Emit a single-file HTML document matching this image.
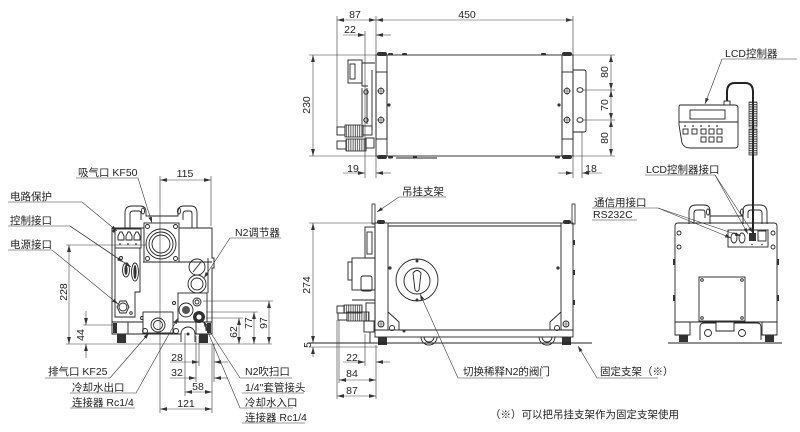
<!DOCTYPE html>
<html><head><meta charset="utf-8">
<style>
html,body{margin:0;padding:0;background:#fff;}
svg{display:block;}
text{font-family:"Liberation Sans","Noto Sans CJK SC",sans-serif;font-size:10.5px;fill:#222;}
.d{stroke:#444;stroke-width:0.6;fill:none;}
.o{stroke:#222;stroke-width:0.9;fill:none;}
.w{stroke:#222;stroke-width:0.9;fill:#fff;}
.t{stroke:#333;stroke-width:0.6;fill:none;}
.f{fill:#333;stroke:none;}
</style></head><body>
<svg width="800" height="432" viewBox="0 0 800 432">
<defs>
<marker id="a" markerWidth="8" markerHeight="5" refX="7" refY="2.2" orient="auto-start-reverse" markerUnits="userSpaceOnUse"><path d="M0,0.3L7,2.2L0,4.1z" fill="#333"/></marker>
<marker id="b" markerWidth="7" markerHeight="5" refX="6" refY="2" orient="auto" markerUnits="userSpaceOnUse"><path d="M0,0.2L6,2L0,3.8z" fill="#333"/></marker>
<pattern id="coil" width="8" height="2.3" patternUnits="userSpaceOnUse"><path d="M0,1.1H8" stroke="#333" stroke-width="1"/></pattern>
<pattern id="rib" width="2.2" height="10" patternUnits="userSpaceOnUse"><path d="M1.1,0V10" stroke="#333" stroke-width="0.8"/></pattern>
</defs>

<!-- ================= TOP VIEW ================= -->
<g>
<rect class="o" x="376" y="55" width="197" height="101"/>
<line class="o" x1="387" y1="55" x2="387" y2="156"/>
<line class="o" x1="562" y1="55" x2="562" y2="156"/>
<g class="f">
<rect x="377" y="52" width="10" height="4" rx="2"/><rect x="562" y="52" width="10" height="4" rx="2"/>
<rect x="377" y="155" width="10" height="4" rx="2"/><rect x="562" y="155" width="10" height="4" rx="2"/>
<rect x="388" y="53" width="5" height="2.5" rx="1"/><rect x="402" y="53" width="5" height="2.5" rx="1"/><rect x="541" y="53" width="5" height="2.5" rx="1"/>
<rect x="388" y="156" width="5" height="2.5" rx="1"/><rect x="555" y="156" width="5" height="2.5" rx="1"/><rect x="413" y="156" width="4" height="2.5" rx="1"/>
<circle cx="389" cy="105" r="1.6"/><circle cx="559" cy="105" r="1.6"/>
</g>
<line class="o" x1="396" y1="158" x2="437" y2="158"/>
<g class="o">
<circle cx="381" cy="91" r="2.8"/><circle cx="381" cy="120" r="2.8"/>
<circle cx="567" cy="91" r="2.8"/><circle cx="567" cy="120" r="2.8"/>
</g>
<path class="t" d="M377,91h8M381,87v8M377,120h8M381,116v8M563,91h8M567,87v8M563,120h8M567,116v8"/>
<rect class="o" x="376" y="72" width="11" height="67" />
<rect class="o" x="562" y="72" width="11" height="67" />
<path class="o" d="M573,70H584Q586,70 586,72V130Q586,132 584,132H573"/>
<ellipse class="o" cx="580" cy="90" rx="3" ry="2.3"/><ellipse class="o" cx="580" cy="120" rx="3" ry="2.3"/>
<!-- left components -->
<rect class="o" x="348" y="60" width="14" height="23"/>
<rect class="o" x="350" y="64" width="5" height="15"/>
<path class="o" d="M362,63H375M362,63V86H368M372,70V130M362,88V124M367,88V124"/>
<circle class="o" cx="366" cy="92" r="2.2"/><circle class="o" cx="366" cy="120" r="2.2"/>
<rect class="o" x="337" y="127" width="8" height="8"/>
<rect x="345" y="125" width="18" height="12" fill="url(#rib)" stroke="#222" stroke-width="0.8"/>
<rect class="o" x="363" y="126" width="9" height="9"/>
<rect class="o" x="337" y="141" width="9" height="8"/>
<rect x="346" y="139" width="20" height="12" fill="url(#rib)" stroke="#222" stroke-width="0.8"/>
<rect class="o" x="366" y="138" width="8" height="10"/>
</g>
<!-- top view dims -->
<g>
<line class="t" x1="337" y1="16" x2="337" y2="127"/>
<line class="t" x1="376" y1="16" x2="376" y2="55"/>
<line class="t" x1="573" y1="16" x2="573" y2="55"/>
<line class="d" x1="337" y1="20" x2="376" y2="20" marker-start="url(#a)" marker-end="url(#a)"/>
<line class="d" x1="376" y1="20" x2="573" y2="20" marker-start="url(#a)" marker-end="url(#a)"/>
<line class="t" x1="365" y1="31" x2="365" y2="178"/>
<line class="d" x1="343" y1="35" x2="365" y2="35" marker-end="url(#a)"/>
<line class="d" x1="391" y1="35" x2="376" y2="35" marker-end="url(#a)"/>
<line class="t" x1="376" y1="156" x2="376" y2="178"/>
<line class="d" x1="343" y1="173" x2="365" y2="173" marker-end="url(#a)"/>
<line class="d" x1="391" y1="173" x2="376" y2="173" marker-end="url(#a)"/>
<line class="t" x1="573" y1="156" x2="573" y2="178"/>
<line class="t" x1="582" y1="132" x2="582" y2="178"/>
<line class="d" x1="558" y1="173" x2="573" y2="173" marker-end="url(#a)"/>
<line class="d" x1="602" y1="173" x2="582" y2="173" marker-end="url(#a)"/>
<line class="t" x1="309" y1="55" x2="376" y2="55"/>
<line class="t" x1="309" y1="156" x2="376" y2="156"/>
<line class="d" x1="313" y1="55" x2="313" y2="156" marker-start="url(#a)" marker-end="url(#a)"/>
<line class="t" x1="573" y1="55" x2="615" y2="55"/>
<line class="t" x1="583" y1="90" x2="615" y2="90"/>
<line class="t" x1="583" y1="120" x2="615" y2="120"/>
<line class="t" x1="573" y1="156" x2="615" y2="156"/>
<line class="d" x1="611" y1="55" x2="611" y2="90" marker-start="url(#a)" marker-end="url(#a)"/>
<line class="d" x1="611" y1="90" x2="611" y2="120" marker-start="url(#a)" marker-end="url(#a)"/>
<line class="d" x1="611" y1="120" x2="611" y2="156" marker-start="url(#a)" marker-end="url(#a)"/>
<text x="355" y="18" text-anchor="middle">87</text>
<text x="467" y="18" text-anchor="middle">450</text>
<text x="350" y="33" text-anchor="middle">22</text>
<text x="353" y="172" text-anchor="middle">19</text>
<text x="591" y="172" text-anchor="middle">18</text>
<text transform="rotate(-90 306 105)" x="306" y="109" text-anchor="middle">230</text>
<text transform="rotate(-90 604 72)" x="604" y="76" text-anchor="middle">80</text>
<text transform="rotate(-90 604 105)" x="604" y="109" text-anchor="middle">70</text>
<text transform="rotate(-90 604 138)" x="604" y="142" text-anchor="middle">80</text>
</g>

<!-- ================= LCD CONTROLLER ================= -->
<g>
<text x="725" y="57">LCD控制器</text>
<path class="t" d="M797,59H722L705,104" marker-end="url(#b)"/>
<path class="o" d="M680,105H735Q738,105 738,108V145Q738,148 735,148H690Q684,148 682,143L679,125V108Q679,105 680,105Z"/>
<line class="o" x1="679" y1="122" x2="738" y2="122"/>
<rect class="o" x="690" y="110" width="35" height="9"/>
<g class="f"><circle cx="685" cy="126" r="0.9"/><circle cx="693" cy="126" r="0.9"/><circle cx="701" cy="126" r="0.9"/><circle cx="709" cy="126" r="0.9"/><circle cx="717" cy="126" r="0.9"/></g>
<g class="o">
<rect x="683" y="129" width="5" height="5"/><rect x="692" y="129" width="5" height="5"/><rect x="701" y="129" width="5" height="5"/><rect x="709" y="129" width="5" height="5"/><rect x="717" y="129" width="5" height="5"/>
<rect x="701" y="137" width="5" height="5"/><rect x="709" y="137" width="5" height="5"/><rect x="717" y="137" width="5" height="5"/>
</g>
<rect class="w" x="724" y="101" width="6" height="4"/>
<path d="M727,101V92Q727,83 735,83H745Q753,83 753,92V234" stroke="#222" stroke-width="2" fill="none"/>
<rect x="749" y="102" width="8" height="25" fill="url(#coil)" stroke="#222" stroke-width="0.7"/>
<rect x="749" y="129" width="8" height="26" fill="url(#coil)" stroke="#222" stroke-width="0.7"/>
</g>

<!-- ================= RIGHT (REAR) VIEW ================= -->
<g>
<path class="o" d="M689,224V212Q689,205 696,205H704Q710,205 710,211V216H743V211Q743,205 749,205H760Q767,205 767,212V224"/>
<path class="o" d="M694,224V213Q694,210 697,210H703Q705,210 705,213V218M748,218V213Q748,210 751,210H759Q762,210 762,213V224M710,216V224M743,216V224"/>
<ellipse class="o" cx="708" cy="212" rx="1.5" ry="3"/><ellipse class="o" cx="742" cy="212" rx="1.5" ry="3"/>
<path class="o" d="M675,322V226Q675,223 678,223H774Q777,223 777,226V322Z"/>
<g class="o"><circle cx="679" cy="233" r="2"/><circle cx="679" cy="247" r="2"/><circle cx="773" cy="233" r="2"/><circle cx="773" cy="247" r="2"/></g>
<g class="f"><rect x="673" y="259" width="2" height="6"/><rect x="673" y="295" width="2" height="6"/><rect x="777" y="259" width="2" height="6"/><rect x="777" y="295" width="2" height="6"/></g>
<rect class="o" x="728" y="230" width="40" height="17"/>
<ellipse class="o" cx="734" cy="238" rx="3" ry="5"/><ellipse class="o" cx="742" cy="238" rx="3" ry="5"/>
<rect class="f" x="749" y="233" width="7" height="8"/>
<rect class="o" x="758" y="231" width="8" height="10"/>
<g class="f"><circle cx="752" cy="244.5" r="0.8"/><circle cx="762" cy="244.5" r="0.8"/></g>
<rect class="o" x="699" y="277" width="46" height="44"/>
<g class="o"><circle cx="702" cy="280" r="1.3"/><circle cx="742" cy="280" r="1.3"/><circle cx="702" cy="318" r="1.3"/><circle cx="742" cy="318" r="1.3"/></g>
<path class="o" d="M700,340V327Q700,323 704,323H716V331H734V323H757Q761,323 761,327V340"/>
<circle class="o" cx="708" cy="333" r="3.5"/><circle class="o" cx="742" cy="333" r="3.5"/>
<path class="o" d="M675,322V335H690V322M762,322V335H777V322"/>
<g class="f"><rect x="679" y="335" width="9" height="7"/><rect x="765" y="335" width="9" height="7"/></g>
<line class="o" x1="668" y1="343" x2="782" y2="343"/>
<text x="646" y="173">LCD控制器接口</text>
<path class="t" d="M645,175H715L748,234" marker-end="url(#b)"/>
<path class="t" d="M715,175L753,233" marker-end="url(#b)"/>
<text x="594" y="206">通信用接口</text>
<text x="593" y="218">RS232C</text>
<line class="t" x1="592" y1="208" x2="658" y2="208"/>
<line class="t" x1="592" y1="220" x2="637" y2="220"/>
<path class="t" d="M658,208L731,238" marker-end="url(#b)"/>
<path class="t" d="M658,208L741,236" marker-end="url(#b)"/>
</g>

<!-- ================= FRONT (LEFT) VIEW ================= -->
<g>
<path class="o" d="M125,228V213Q125,206 132,206H140Q146,206 146,212V216H178V212Q178,206 184,206H191Q197,206 197,213V228"/>
<path class="o" d="M130,228V214Q130,211 133,211H139Q141,211 141,214V220M183,220V214Q183,211 186,211H190Q192,211 192,214V228"/>
<ellipse class="o" cx="143" cy="211" rx="1.5" ry="3"/><ellipse class="o" cx="179" cy="211" rx="1.5" ry="3"/>
<path class="o" d="M112,322V228H212V258H214V268H212V322"/>
<rect class="w" x="144" y="223" width="35" height="39"/>
<g class="o"><circle cx="147.5" cy="226.5" r="2"/><circle cx="175.5" cy="226.5" r="2"/><circle cx="147.5" cy="258.5" r="2"/><circle cx="175.5" cy="258.5" r="2"/></g>
<circle class="o" cx="161" cy="244" r="15"/><circle class="o" cx="161" cy="244" r="12"/><circle class="o" cx="161" cy="244" r="9"/>
<!-- circuit protection -->
<rect class="o" x="115" y="229" width="26" height="19"/>
<path class="o" d="M118,236L120,232H122L124,236V240H118ZM126,236L128,232H130L132,236V240H126ZM134,236L136,232H138L140,236V240H134Z"/>
<g class="f"><circle cx="120" cy="244" r="0.9"/><circle cx="128" cy="244" r="0.9"/><circle cx="136" cy="244" r="0.9"/><circle cx="114" cy="231" r="1.5"/></g>
<path class="o" d="M115,248V317H135V292H140V248"/>
<line class="o" x1="143" y1="262" x2="212" y2="262"/>
<ellipse class="o" cx="126" cy="270" rx="3.5" ry="7"/><ellipse class="f" cx="126" cy="270" rx="1.6" ry="5"/>
<ellipse class="o" cx="135" cy="272" rx="3.5" ry="9"/><ellipse class="f" cx="135" cy="272" rx="1.6" ry="7"/>
<circle class="o" cx="121" cy="258" r="1.5"/>
<path class="o" d="M117,307L120,301H126L129,307L126,313H120Z"/>
<circle class="o" cx="123" cy="307" r="4"/>
<circle class="o" cx="131" cy="313" r="1.3"/>
<!-- N2 regulator -->
<circle class="o" cx="197" cy="267" r="8"/><line class="o" x1="193" y1="272" x2="201" y2="262"/>
<circle class="o" cx="197" cy="284" r="9"/><circle class="o" cx="197" cy="284" r="6"/>
<line class="o" x1="208" y1="258" x2="208" y2="293"/>
<rect class="o" x="178" y="293" width="29" height="29"/>
<circle class="o" cx="197" cy="302" r="4"/><circle class="o" cx="197" cy="302" r="2"/>
<circle cx="199" cy="317" r="6" fill="#333"/><circle cx="199" cy="317" r="3" fill="#fff" stroke="#222" stroke-width="0.8"/>
<circle class="o" cx="186" cy="310" r="7"/><circle cx="186" cy="310" r="4" fill="#555"/>
<circle class="o" cx="174" cy="303" r="1.5"/><circle class="o" cx="142" cy="318" r="1.5"/>
<!-- base -->
<line class="o" x1="112" y1="322" x2="212" y2="322"/>
<rect class="w" x="143" y="312" width="30" height="21"/>
<circle class="o" cx="158" cy="325" r="7"/><circle class="o" cx="158" cy="325" r="4.5"/>
<path class="o" d="M112,322V334H128V322M196,322V334H212V322M128,334H196"/>
<circle class="o" cx="145" cy="331" r="2.5"/><circle class="o" cx="176" cy="331" r="2.5"/>
<path class="w" d="M181,342V334A7,7 0 0,1 195,334V342"/>
<circle class="f" cx="188" cy="334" r="1.5"/>
<g class="f"><rect x="113" y="323" width="4" height="10"/><rect x="207" y="323" width="4" height="10"/><rect x="117" y="334" width="9" height="9"/><rect x="199" y="334" width="9" height="9"/></g>
</g>
<!-- front view labels & dims -->
<g>
<text x="78" y="176">吸气口 KF50</text>
<path class="t" d="M76,178H138L152,223" marker-end="url(#b)"/>
<text x="10" y="200">电路保护</text>
<path class="t" d="M8,202H82L117,231" marker-end="url(#b)"/>
<text x="10" y="224">控制接口</text>
<path class="t" d="M8,226H70L123,262" marker-end="url(#b)"/>
<path class="t" d="M70,226L131,267" marker-end="url(#b)"/>
<text x="10" y="248">电源接口</text>
<path class="t" d="M8,250H52L118,304" marker-end="url(#b)"/>
<text x="235" y="236">N2调节器</text>
<path class="t" d="M281,238H230L204,278" marker-end="url(#b)"/>
<line class="t" x1="160" y1="176" x2="160" y2="413"/>
<line class="t" x1="211" y1="176" x2="211" y2="226"/>
<line class="d" x1="160" y1="180" x2="211" y2="180" marker-start="url(#a)" marker-end="url(#a)"/>
<text x="185" y="177" text-anchor="middle">115</text>
<line class="t" x1="66" y1="245" x2="146" y2="245"/>
<line class="t" x1="66" y1="344" x2="272" y2="344"/>
<line class="d" x1="69" y1="245" x2="69" y2="344" marker-start="url(#a)" marker-end="url(#a)"/>
<text transform="rotate(-90 63 292)" x="63" y="296" text-anchor="middle">228</text>
<line class="t" x1="83" y1="325" x2="113" y2="325"/>
<line class="d" x1="86" y1="311" x2="86" y2="325" marker-end="url(#a)"/>
<line class="d" x1="86" y1="358" x2="86" y2="344" marker-end="url(#a)"/>
<text transform="rotate(-90 80 335)" x="80" y="339" text-anchor="middle">44</text>
<line class="t" x1="203" y1="301" x2="273" y2="301"/>
<line class="t" x1="206" y1="312" x2="258" y2="312"/>
<line class="t" x1="206" y1="318" x2="243" y2="318"/>
<line class="d" x1="239" y1="318" x2="239" y2="344" marker-start="url(#a)" marker-end="url(#a)"/>
<line class="d" x1="254" y1="312" x2="254" y2="344" marker-start="url(#a)" marker-end="url(#a)"/>
<line class="d" x1="269" y1="301" x2="269" y2="344" marker-start="url(#a)" marker-end="url(#a)"/>
<text transform="rotate(-90 233 332)" x="233" y="336" text-anchor="middle">62</text>
<text transform="rotate(-90 248 323)" x="248" y="327" text-anchor="middle">77</text>
<text transform="rotate(-90 263 323)" x="263" y="327" text-anchor="middle">97</text>
<!-- bottom horizontal dims -->
<line class="t" x1="185" y1="333" x2="185" y2="396"/>
<line class="t" x1="212" y1="344" x2="212" y2="413"/>
<line class="t" x1="199" y1="336" x2="199" y2="366"/>
<line class="t" x1="196" y1="336" x2="196" y2="382"/>
<line class="t" x1="214" y1="344" x2="214" y2="382"/>
<line class="d" x1="170" y1="362" x2="199" y2="362" marker-end="url(#a)"/>
<line class="d" x1="228" y1="362" x2="214" y2="362" marker-end="url(#a)"/>
<text x="177" y="361" text-anchor="middle">28</text>
<line class="d" x1="170" y1="378" x2="196" y2="378" marker-end="url(#a)"/>
<line class="d" x1="228" y1="378" x2="214" y2="378" marker-end="url(#a)"/>
<text x="177" y="376" text-anchor="middle">32</text>
<line class="d" x1="185" y1="392" x2="212" y2="392" marker-start="url(#a)" marker-end="url(#a)"/>
<text x="198" y="390" text-anchor="middle">58</text>
<line class="d" x1="160" y1="409" x2="212" y2="409" marker-start="url(#a)" marker-end="url(#a)"/>
<text x="186" y="407" text-anchor="middle">121</text>
<!-- bottom labels -->
<text x="48" y="375">排气口 KF25</text>
<path class="t" d="M45,378H110L149,333" marker-end="url(#b)"/>
<text x="72" y="391">冷却水出口</text>
<path class="t" d="M70,393H136L178,318" marker-end="url(#b)"/>
<text x="72" y="406">连接器 Rc1/4</text>
<line class="t" x1="70" y1="408" x2="135" y2="408"/>
<text x="245" y="375">N2吹扫口</text>
<path class="t" d="M292,378H240L203,321" marker-end="url(#b)"/>
<text x="245" y="391">1/4"套管接头</text>
<line class="t" x1="242" y1="393" x2="304" y2="393"/>
<text x="245" y="406">冷却水入口</text>
<path class="t" d="M293,408H240L205,325" marker-end="url(#b)"/>
<text x="245" y="421">连接器 Rc1/4</text>
<line class="t" x1="242" y1="423" x2="305" y2="423"/>
</g>

<!-- ================= SIDE VIEW ================= -->
<g>
<rect x="372" y="204" width="3" height="20" fill="#fff" stroke="#222" stroke-width="0.8"/>
<rect x="572" y="204" width="3" height="20" fill="#fff" stroke="#222" stroke-width="0.8"/>
<rect class="o" x="375" y="223" width="198" height="107"/>
<line class="o" x1="388" y1="223" x2="388" y2="330"/>
<line class="o" x1="561" y1="223" x2="561" y2="330"/>
<line class="o" x1="388" y1="226" x2="561" y2="226"/>
<path class="o" d="M388,312L399,322V330M561,312L550,322V330"/>
<rect class="o" x="375" y="330" width="198" height="7"/>
<g class="f"><rect x="377" y="220" width="8" height="4" rx="2"/><rect x="563" y="220" width="8" height="4" rx="2"/>
<rect x="378" y="337" width="9" height="8"/><rect x="562" y="337" width="9" height="8"/>
<circle cx="390" cy="268" r="1.6"/><circle cx="558" cy="268" r="1.6"/><circle cx="404" cy="331" r="1.5"/>
<rect x="573" y="240" width="2" height="5"/><rect x="573" y="270" width="2" height="5"/><rect x="573" y="300" width="2" height="5"/></g>
<circle class="o" cx="381" cy="324" r="3"/><path class="t" d="M378,324h6M381,321v6"/>
<circle class="o" cx="392" cy="328" r="2.5"/>
<circle class="o" cx="566" cy="324" r="3"/><path class="t" d="M563,324h6M566,321v6"/>
<circle class="o" cx="557" cy="328" r="2.5"/>
<path class="o" d="M421,337A8,8 0 0,0 437,337M539,337A8,8 0 0,0 555,337"/>
<path class="o" d="M424,337A5,5 0 0,0 434,337M542,337A5,5 0 0,0 552,337"/>
<circle class="o" cx="417" cy="280" r="21"/>
<circle class="o" cx="417" cy="281" r="13"/>
<path class="o" d="M413,273Q417,268 421,273L419,290Q417,293 415,290Z"/>
<circle class="f" cx="417" cy="261" r="1.5"/><circle class="f" cx="417" cy="300" r="1.5"/>
<!-- left components -->
<rect class="o" x="365" y="227" width="10" height="31"/>
<rect class="o" x="367" y="232" width="5" height="22"/>
<rect class="o" x="352" y="258" width="23" height="32"/>
<rect class="o" x="348" y="262" width="4" height="18"/>
<rect class="o" x="361" y="276" width="11" height="15" rx="2"/>
<line class="o" x1="352" y1="300" x2="375" y2="300"/>
<rect class="o" x="337" y="306" width="7" height="7"/>
<rect x="344" y="305" width="18" height="8" fill="url(#rib)" stroke="#222" stroke-width="0.8"/>
<rect x="347" y="312" width="22" height="9" fill="url(#rib)" stroke="#222" stroke-width="0.8"/>
<rect class="o" x="338" y="313" width="9" height="7"/>
<rect class="o" x="366" y="303" width="9" height="18"/>
<rect class="o" x="364" y="321" width="10" height="11"/>
<line class="o" x1="370" y1="332" x2="370" y2="343"/>
</g>
<!-- side dims and labels -->
<g>
<text x="402" y="195">吊挂支架</text>
<path class="t" d="M446,197H399L377,212" marker-end="url(#b)"/>
<line class="t" x1="309" y1="223" x2="375" y2="223"/>
<line class="o" x1="309" y1="343" x2="592" y2="343"/>
<line class="t" x1="309" y1="347" x2="378" y2="347"/>
<line class="d" x1="313" y1="223" x2="313" y2="343" marker-start="url(#a)" marker-end="url(#a)"/>
<line class="d" x1="313" y1="357" x2="313" y2="347" marker-end="url(#a)"/>
<text transform="rotate(-90 306 285)" x="306" y="289" text-anchor="middle">274</text>
<text transform="rotate(-90 307 345)" x="307" y="349" text-anchor="middle">5</text>
<line class="t" x1="365" y1="334" x2="365" y2="366"/>
<line class="t" x1="376" y1="345" x2="376" y2="399"/>
<line class="t" x1="339" y1="320" x2="339" y2="383"/>
<line class="t" x1="337" y1="320" x2="337" y2="399"/>
<line class="d" x1="343" y1="362" x2="365" y2="362" marker-end="url(#a)"/>
<line class="d" x1="390" y1="362" x2="376" y2="362" marker-end="url(#a)"/>
<text x="352" y="361" text-anchor="middle">22</text>
<line class="d" x1="339" y1="380" x2="376" y2="380" marker-start="url(#a)" marker-end="url(#a)"/>
<text x="352" y="377" text-anchor="middle">84</text>
<line class="d" x1="337" y1="396" x2="376" y2="396" marker-start="url(#a)" marker-end="url(#a)"/>
<text x="352" y="394" text-anchor="middle">87</text>
<text x="463" y="375">切换稀释N2的阀门</text>
<path class="t" d="M543,378H458L420,294" marker-end="url(#b)"/>
<text x="600" y="375">固定支架（※）</text>
<path class="t" d="M658,378H597L578,346" marker-end="url(#b)"/>
<text x="490" y="418">（※）可以把吊挂支架作为固定支架使用</text>
</g>
</svg>
</body></html>
